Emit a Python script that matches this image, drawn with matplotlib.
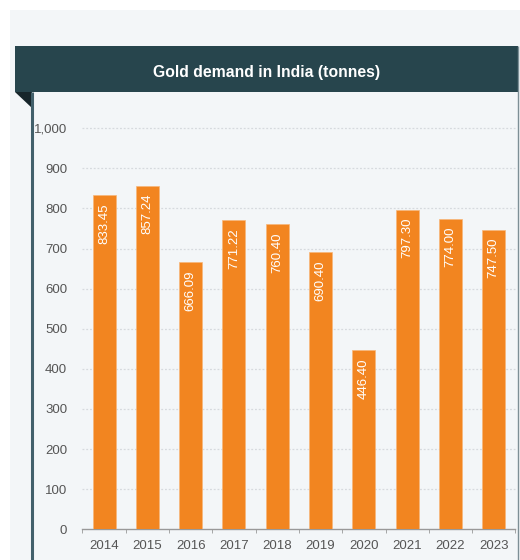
import matplotlib.pyplot as plt
from matplotlib.patches import Rectangle, Polygon
from matplotlib.ticker import FuncFormatter

years = ["2014", "2015", "2016", "2017", "2018", "2019", "2020", "2021", "2022", "2023"]
demand = [833.45, 857.24, 666.09, 771.22, 760.40, 690.40, 446.40, 797.30, 774.00, 747.50]
labels = ["833.45", "857.24", "666.09", "771.22", "760.40", "690.40", "446.40", "797.30", "774.00", "747.50"]
title = "Gold demand in India (tonnes)"

plt.rcParams["font.family"] = ["Liberation Sans", "DejaVu Sans"]

W, H = 520, 560
fig = plt.figure(figsize=(W / 100, H / 100), dpi=100, facecolor="white")

# background decoration in pixel coords
bg = fig.add_axes([0, 0, 1, 1])
bg.set_xlim(0, W)
bg.set_ylim(H, 0)
bg.axis("off")
bg.add_patch(Rectangle((10, 10), W - 10, H - 10, color="#f3f6f8", lw=0))
bg.add_patch(Rectangle((15, 46), 503, 46, color="#27454d", lw=0))
bg.add_patch(Polygon([(15, 92), (32, 92), (32, 108)], closed=True, color="#17262b", lw=0))
bg.plot([32, 32], [92, H], color="#42606b", lw=2.2, solid_capstyle="butt")
bg.plot([518, 518], [46, H], color="#7d8f96", lw=1.0, solid_capstyle="butt")
bg.text(267, 72, title, color="white", fontsize=11.3, fontweight="bold",
        ha="center", va="center")

ax = fig.add_axes([82.4 / W, (H - 529.3) / H, 433 / W, 401 / H])
ax.set_facecolor("none")
x = list(range(len(years)))
ax.bar(x, demand, width=0.53, color="#f28520", edgecolor="#f7b77a", linewidth=0.5, zorder=3)
for xi, v, lab in zip(x, demand, labels):
    ax.text(xi, v - 20, lab, rotation=90, ha="center", va="top", color="white",
            fontsize=9.5, zorder=4)

ax.set_xlim(-0.5, len(years) - 0.5)
ax.set_ylim(0, 1000)
ax.set_yticks(range(0, 1001, 100))
ax.yaxis.set_major_formatter(FuncFormatter(lambda v, p: f"{int(v):,}"))
ax.set_xticks(x)
ax.set_xticklabels(years)
ax.set_xticks([i - 0.5 for i in range(len(years) + 1)], minor=True)
ax.tick_params(axis="x", which="major", length=0, pad=8, labelsize=9.5, labelcolor="#555555")
ax.tick_params(axis="x", which="minor", length=3, color="#999999", direction="out")
ax.tick_params(axis="y", length=0, pad=11, labelsize=9.5, labelcolor="#555555")

for s in ["top", "right", "left"]:
    ax.spines[s].set_visible(False)
ax.spines["bottom"].set_color("#999999")
ax.spines["bottom"].set_linewidth(1)

for g in range(100, 1001, 100):
    ax.axhline(g, color="#d6dade", lw=0.9, ls=(0, (1.5, 1.5)), zorder=1, clip_on=False)

fig.savefig("out.png", dpi=100)
